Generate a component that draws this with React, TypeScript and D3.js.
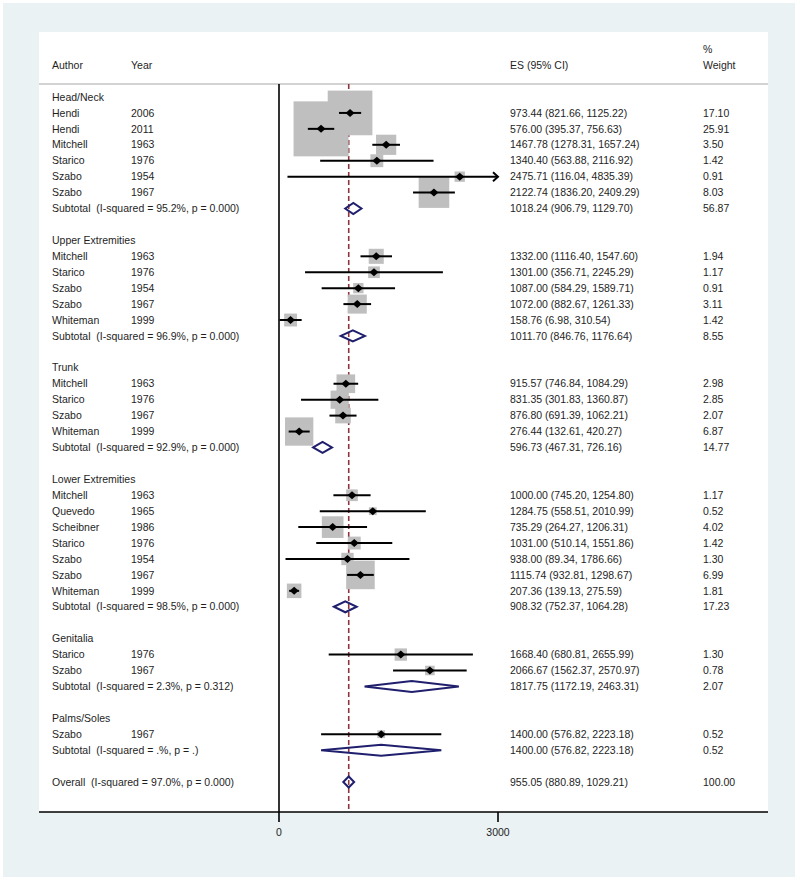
import React from "react";
import * as d3 from "d3";

type Row = {
  kind: "group" | "study" | "subtotal" | "blank" | "overall";
  author?: string;
  year?: string;
  label?: string;
  es?: number;
  lo?: number;
  hi?: number;
  w?: number;
};

const groups = ["Head/Neck", "Upper Extremities", "Trunk", "Lower Extremities", "Genitalia", "Palms/Soles"];

const studyAuthors = [
  ["Hendi", "Hendi", "Mitchell", "Starico", "Szabo", "Szabo"],
  ["Mitchell", "Starico", "Szabo", "Szabo", "Whiteman"],
  ["Mitchell", "Starico", "Szabo", "Whiteman"],
  ["Mitchell", "Quevedo", "Scheibner", "Starico", "Szabo", "Szabo", "Whiteman"],
  ["Starico", "Szabo"],
  ["Szabo"],
];
const studyYears = [
  ["2006", "2011", "1963", "1976", "1954", "1967"],
  ["1963", "1976", "1954", "1967", "1999"],
  ["1963", "1976", "1967", "1999"],
  ["1963", "1965", "1986", "1976", "1954", "1967", "1999"],
  ["1976", "1967"],
  ["1967"],
];
const studyES = [
  [973.44, 576.0, 1467.78, 1340.4, 2475.71, 2122.74],
  [1332.0, 1301.0, 1087.0, 1072.0, 158.76],
  [915.57, 831.35, 876.8, 276.44],
  [1000.0, 1284.75, 735.29, 1031.0, 938.0, 1115.74, 207.36],
  [1668.4, 2066.67],
  [1400.0],
];
const studyLo = [
  [821.66, 395.37, 1278.31, 563.88, 116.04, 1836.2],
  [1116.4, 356.71, 584.29, 882.67, 6.98],
  [746.84, 301.83, 691.39, 132.61],
  [745.2, 558.51, 264.27, 510.14, 89.34, 932.81, 139.13],
  [680.81, 1562.37],
  [576.82],
];
const studyHi = [
  [1125.22, 756.63, 1657.24, 2116.92, 4835.39, 2409.29],
  [1547.6, 2245.29, 1589.71, 1261.33, 310.54],
  [1084.29, 1360.87, 1062.21, 420.27],
  [1254.8, 2010.99, 1206.31, 1551.86, 1786.66, 1298.67, 275.59],
  [2655.99, 2570.97],
  [2223.18],
];
const studyW = [
  [17.1, 25.91, 3.5, 1.42, 0.91, 8.03],
  [1.94, 1.17, 0.91, 3.11, 1.42],
  [2.98, 2.85, 2.07, 6.87],
  [1.17, 0.52, 4.02, 1.42, 1.3, 6.99, 1.81],
  [1.3, 0.78],
  [0.52],
];

const subLabels = [
  "Subtotal  (I-squared = 95.2%, p = 0.000)",
  "Subtotal  (I-squared = 96.9%, p = 0.000)",
  "Subtotal  (I-squared = 92.9%, p = 0.000)",
  "Subtotal  (I-squared = 98.5%, p = 0.000)",
  "Subtotal  (I-squared = 2.3%, p = 0.312)",
  "Subtotal  (I-squared = .%, p = .)",
];
const subES = [1018.24, 1011.7, 596.73, 908.32, 1817.75, 1400.0];
const subLo = [906.79, 846.76, 467.31, 752.37, 1172.19, 576.82];
const subHi = [1129.7, 1176.64, 726.16, 1064.28, 2463.31, 2223.18];
const subW = [56.87, 8.55, 14.77, 17.23, 2.07, 0.52];

const overallLabel = "Overall  (I-squared = 97.0%, p = 0.000)";
const overallES = 955.05;
const overallLo = 880.89;
const overallHi = 1029.21;
const overallW = 100.0;

const xTicks = [0, 3000];

const rows: Row[] = [];
groups.forEach((g, gi) => {
  rows.push({ kind: "group", label: g });
  studyAuthors[gi].forEach((a, si) => {
    rows.push({
      kind: "study",
      author: a,
      year: studyYears[gi][si],
      es: studyES[gi][si],
      lo: studyLo[gi][si],
      hi: studyHi[gi][si],
      w: studyW[gi][si],
    });
  });
  rows.push({ kind: "subtotal", label: subLabels[gi], es: subES[gi], lo: subLo[gi], hi: subHi[gi], w: subW[gi] });
  rows.push({ kind: "blank" });
});
rows.push({ kind: "overall", label: overallLabel, es: overallES, lo: overallLo, hi: overallHi, w: overallW });

const fmt = (v: number) => v.toFixed(2);

export default function App() {
  const W = 800;
  const H = 881;
  const x = d3.scaleLinear().domain([0, 3000]).range([279, 498]);
  const y = d3.scaleLinear().domain([0, rows.length - 1]).range([97, 782]);
  const maxW = d3.max(studyW.flat()) as number;
  const box = d3.scaleSqrt().domain([0, maxW]).range([0, 55]);
  const xMax = 3000;

  const font = "'Liberation Sans', Arial, Helvetica, sans-serif";
  const txt = { fontFamily: font, fontSize: 10.5, fill: "#1e1e1e" } as const;

  const colAuthor = 52;
  const colYear = 131;
  const colES = 510;
  const colW = 703;
  const headerY = 65;
  const lineY = 84;
  const axisY = 812;

  return (
    <svg width={W} height={H} style={{ position: "absolute", left: 0, top: 0 }}>
      <rect x={0} y={0} width={W} height={H} fill="#ffffff" />
      <rect x={3} y={3} width={792} height={874} fill="#eaf2f3" />
      <rect x={39} y={32} width={729} height={axisY - 32} fill="#ffffff" />

      {/* header */}
      <text x={colAuthor} y={headerY} dy="0.35em" {...txt}>Author</text>
      <text x={colYear} y={headerY} dy="0.35em" {...txt}>Year</text>
      <text x={colES} y={headerY} dy="0.35em" {...txt}>ES (95% CI)</text>
      <text x={colW} y={49} dy="0.35em" {...txt}>%</text>
      <text x={colW} y={headerY} dy="0.35em" {...txt}>Weight</text>
      <line x1={39} x2={768} y1={lineY} y2={lineY} stroke="#a8a8a8" strokeWidth={1.2} />

      {/* overall dashed line */}
      <line
        x1={x(overallES)}
        x2={x(overallES)}
        y1={lineY}
        y2={axisY}
        stroke="#90353b"
        strokeWidth={1.6}
        strokeDasharray="5,3"
      />

      {/* boxes */}
      {rows.map((r, i) =>
        r.kind === "study" ? (
          <rect
            key={"b" + i}
            x={x(r.es!) - box(r.w!) / 2}
            y={y(i) - box(r.w!) / 2}
            width={box(r.w!)}
            height={box(r.w!)}
            fill="#bfbfbf"
          />
        ) : null
      )}

      {/* CI lines and markers */}
      {rows.map((r, i) => {
        if (r.kind !== "study") return null;
        const yy = y(i);
        const clipped = r.hi! > xMax;
        const x2 = x(Math.min(r.hi!, xMax));
        const cx = x(r.es!);
        return (
          <g key={"c" + i}>
            <line x1={x(r.lo!)} x2={x2} y1={yy} y2={yy} stroke="#000" strokeWidth={2} />
            {clipped && (
              <polyline
                points={`${x2 - 5},${yy - 4.5} ${x2},${yy} ${x2 - 5},${yy + 4.5}`}
                fill="none"
                stroke="#000"
                strokeWidth={2}
              />
            )}
            <path d={`M${cx - 4.5},${yy} L${cx},${yy - 4} L${cx + 4.5},${yy} L${cx},${yy + 4} Z`} fill="#000" />
          </g>
        );
      })}

      {/* diamonds */}
      {rows.map((r, i) => {
        if (r.kind !== "subtotal" && r.kind !== "overall") return null;
        const yy = y(i);
        const h = 5.5;
        return (
          <path
            key={"d" + i}
            d={`M${x(r.lo!)},${yy} L${x(r.es!)},${yy - h} L${x(r.hi!)},${yy} L${x(r.es!)},${yy + h} Z`}
            fill="none"
            stroke="#1f1f6e"
            strokeWidth={2}
            strokeLinejoin="miter"
          />
        );
      })}

      {/* vertical zero line */}
      <line x1={x(0)} x2={x(0)} y1={lineY} y2={axisY} stroke="#000" strokeWidth={1.6} />

      {/* row texts */}
      {rows.map((r, i) => {
        const yy = y(i);
        if (r.kind === "blank") return null;
        if (r.kind === "group")
          return (
            <text key={"t" + i} x={colAuthor} y={yy} dy="0.35em" {...txt}>
              {r.label}
            </text>
          );
        const ciText = `${fmt(r.es!)} (${fmt(r.lo!)}, ${fmt(r.hi!)})`;
        return (
          <g key={"t" + i}>
            {r.kind === "study" ? (
              <>
                <text x={colAuthor} y={yy} dy="0.35em" {...txt}>{r.author}</text>
                <text x={colYear} y={yy} dy="0.35em" {...txt}>{r.year}</text>
              </>
            ) : (
              <text x={colAuthor} y={yy} dy="0.35em" {...txt} style={{ whiteSpace: "pre" }}>
                {r.label}
              </text>
            )}
            <text x={colES} y={yy} dy="0.35em" {...txt}>{ciText}</text>
            <text x={colW} y={yy} dy="0.35em" {...txt}>{fmt(r.w!)}</text>
          </g>
        );
      })}

      {/* axis */}
      <line x1={39} x2={768} y1={axisY} y2={axisY} stroke="#000" strokeWidth={1.6} />
      {xTicks.map((t) => (
        <g key={"k" + t}>
          <line x1={x(t)} x2={x(t)} y1={axisY} y2={axisY + 10} stroke="#000" strokeWidth={1.6} />
          <text x={x(t)} y={axisY + 20} dy="0.35em" textAnchor="middle" {...txt}>
            {t}
          </text>
        </g>
      ))}
    </svg>
  );
}
